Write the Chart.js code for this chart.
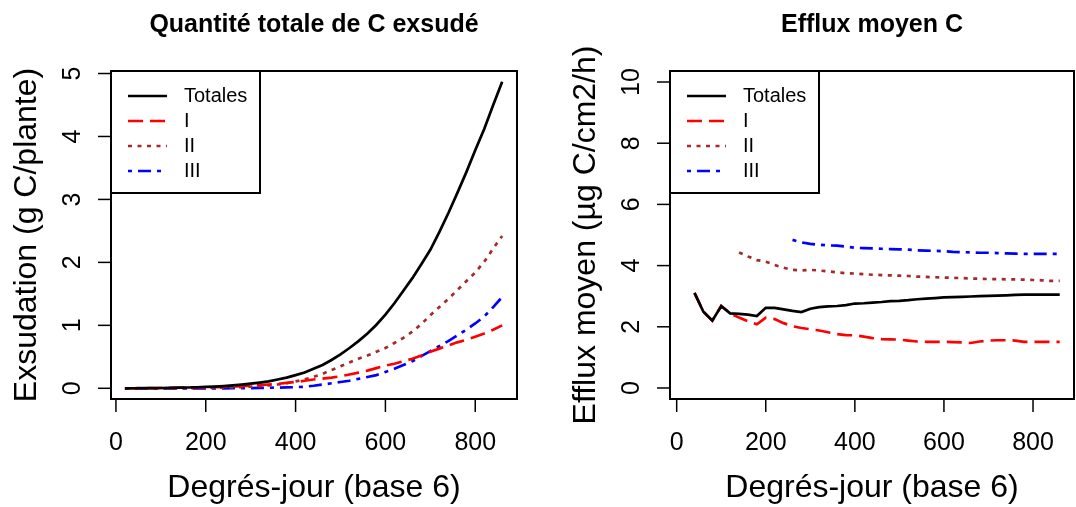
<!DOCTYPE html>
<html>
<head>
<meta charset="utf-8">
<script src="https://cdn.jsdelivr.net/npm/chart.js@4"></script>
<style>
  body { margin: 0; background: #fff; }
  #wrap { position: relative; width: 1076px; height: 507px; }
  .panel { position: absolute; top: 0; width: 538px; height: 507px; }
</style>
</head>
<body>
<div id="wrap">
  <div class="panel" style="left:0"><canvas id="left"></canvas></div>
  <div class="panel" style="left:538px"><canvas id="right"></canvas></div>
</div>
<script>
// ===============================
// Data
// ===============================
const degresJour = [20, 40, 60, 80, 100, 120, 140, 160, 180, 200, 220, 240, 260, 280, 300,
  320, 340, 360, 380, 400, 420, 440, 460, 480, 500, 520, 540, 560, 580, 600,
  620, 640, 660, 680, 700, 720, 740, 760, 780, 800, 820, 840, 860];

// cumulative exudation (g C/plante)
const totTotales = [0, 0.001, 0.002, 0.003, 0.005, 0.007, 0.01, 0.013, 0.017, 0.022, 0.028, 0.036, 0.046, 0.058, 0.073,
  0.09, 0.11, 0.14, 0.17, 0.21, 0.25, 0.31, 0.37, 0.45, 0.54, 0.64, 0.75, 0.87, 1.01, 1.17,
  1.35, 1.55, 1.75, 1.97, 2.2, 2.48, 2.78, 3.1, 3.43, 3.78, 4.12, 4.5, 4.87];
const totI = [0, 0.001, 0.002, 0.003, 0.005, 0.007, 0.009, 0.011, 0.013, 0.016, 0.02, 0.024, 0.03, 0.036, 0.043,
  0.05, 0.06, 0.07, 0.085, 0.1, 0.12, 0.14, 0.155, 0.17, 0.19, 0.22, 0.25, 0.28, 0.32, 0.36,
  0.39, 0.43, 0.47, 0.52, 0.58, 0.63, 0.68, 0.73, 0.77, 0.82, 0.87, 0.93, 1.0];
const totII = [0, 0, 0, 0, 0, 0, 0.001, 0.002, 0.003, 0.005, 0.007, 0.01, 0.014, 0.019, 0.026,
  0.035, 0.046, 0.06, 0.08, 0.11, 0.14, 0.18, 0.23, 0.29, 0.35, 0.41, 0.47, 0.52, 0.58, 0.64,
  0.72, 0.8, 0.9, 1.02, 1.16, 1.29, 1.42, 1.56, 1.7, 1.84, 2.01, 2.22, 2.42];
const totIII = [0, 0, 0, 0, 0, 0, 0, 0, 0, 0, 0, 0, 0.001, 0.002, 0.004,
  0.006, 0.008, 0.011, 0.014, 0.018, 0.025, 0.04, 0.06, 0.08, 0.1, 0.12, 0.15, 0.18, 0.21, 0.26,
  0.31, 0.37, 0.43, 0.51, 0.59, 0.67, 0.75, 0.84, 0.93, 1.03, 1.14, 1.29, 1.45];

// mean efflux (µg C/cm2/h)
const effTotales = [null, 3.11, 2.49, 2.2, 2.68, 2.44, 2.42, 2.4, 2.35, 2.62, 2.62, 2.57, 2.52, 2.48, 2.59,
  2.64, 2.67, 2.68, 2.71, 2.76, 2.77, 2.79, 2.81, 2.84, 2.85, 2.87, 2.9, 2.92, 2.94, 2.96,
  2.97, 2.98, 2.99, 3.0, 3.01, 3.02, 3.03, 3.04, 3.05, 3.05, 3.05, 3.05, 3.05];
const effI = [null, 3.11, 2.49, 2.2, 2.68, 2.44, 2.3, 2.18, 2.08, 2.3, 2.25, 2.12, 2.02, 1.96, 1.92,
  1.88, 1.82, 1.76, 1.73, 1.72, 1.68, 1.63, 1.6, 1.59, 1.58, 1.55, 1.52, 1.51, 1.51, 1.51,
  1.5, 1.49, 1.47, 1.52, 1.55, 1.56, 1.56, 1.55, 1.51, 1.51, 1.51, 1.51, 1.51];
const effII = [null, null, null, null, null, null, 4.43, 4.3, 4.18, 4.13, 4.02, 3.93, 3.86, 3.84, 3.86,
  3.84, 3.81, 3.78, 3.75, 3.74, 3.72, 3.7, 3.69, 3.68, 3.67, 3.66, 3.64, 3.63, 3.62, 3.61,
  3.6, 3.59, 3.58, 3.57, 3.56, 3.56, 3.55, 3.55, 3.54, 3.53, 3.52, 3.5, 3.5];
const effIII = [null, null, null, null, null, null, null, null, null, null, null, null, 4.84, 4.76, 4.71,
  4.68, 4.66, 4.65, 4.62, 4.58, 4.57, 4.56, 4.55, 4.54, 4.53, 4.52, 4.5, 4.49, 4.48, 4.47,
  4.45, 4.44, 4.43, 4.42, 4.42, 4.41, 4.4, 4.39, 4.38, 4.38, 4.38, 4.38, 4.38];

const xTicks = [0, 200, 400, 600, 800];
const leftYTicks = [0, 1, 2, 3, 4, 5];
const rightYTicks = [0, 2, 4, 6, 8, 10];
const legendLabels = ["Totales", "I", "II", "III"];

// ===============================
// Styles
// ===============================
const FONT = '"Liberation Sans", Arial, Helvetica, sans-serif';
const seriesStyle = [
  { color: "#000000", dash: [] },
  { color: "#FF0000", dash: [15, 7] },
  { color: "#A52A2A", dash: [4, 5.5] },
  { color: "#0000FF", dash: [4, 6, 13, 6] }
];

function toPoints(values) {
  return degresJour.map((d, i) => ({ x: d, y: values[i] }));
}

function makeDatasets(list) {
  return list.map((values, i) => ({
    label: legendLabels[i],
    data: toPoints(values),
    borderColor: seriesStyle[i].color,
    borderDash: seriesStyle[i].dash,
    borderWidth: 2.7,
    borderCapStyle: "butt",
    pointRadius: 0,
    tension: 0,
    fill: false,
    spanGaps: false
  }));
}

// R-like frame, axes, titles and legend
const rFrame = {
  id: "rFrame",
  afterDraw(chart, args, opts) {
    const { ctx, chartArea: a, scales: { x, y } } = chart;
    ctx.save();
    ctx.fillStyle = "#000";
    ctx.strokeStyle = "#000";

    // box
    ctx.lineWidth = 2;
    ctx.strokeRect(a.left, a.top, a.right - a.left, a.bottom - a.top);

    // x axis ticks + labels
    ctx.lineWidth = 1.5;
    ctx.font = "25px " + FONT;
    ctx.textAlign = "center";
    ctx.textBaseline = "alphabetic";
    xTicks.forEach(v => {
      const px = x.getPixelForValue(v);
      ctx.beginPath();
      ctx.moveTo(px, a.bottom);
      ctx.lineTo(px, a.bottom + 13);
      ctx.stroke();
      ctx.fillText(String(v), px, a.bottom + 51);
    });

    // y axis ticks + rotated labels
    opts.yTicks.forEach(v => {
      const py = y.getPixelForValue(v);
      ctx.beginPath();
      ctx.moveTo(a.left, py);
      ctx.lineTo(a.left - 13, py);
      ctx.stroke();
      ctx.save();
      ctx.translate(a.left - 31, py);
      ctx.rotate(-Math.PI / 2);
      ctx.fillText(String(v), 0, 0);
      ctx.restore();
    });

    // axis titles
    ctx.font = "32px " + FONT;
    ctx.fillText("Degrés-jour (base 6)", (a.left + a.right) / 2, 497);
    ctx.save();
    ctx.translate(a.left - 75, (a.top + a.bottom) / 2);
    ctx.rotate(-Math.PI / 2);
    ctx.fillText(opts.yTitle, 0, 0);
    ctx.restore();

    // main title
    ctx.font = "bold 25px " + FONT;
    ctx.fillText(opts.title, (a.left + a.right) / 2, 32);

    // legend
    ctx.lineWidth = 2;
    ctx.strokeRect(a.left, a.top, 149, 122);
    ctx.font = "20px " + FONT;
    ctx.textAlign = "left";
    ctx.textBaseline = "middle";
    legendLabels.forEach((lab, i) => {
      const ly = a.top + 25 + i * 25;
      ctx.save();
      ctx.strokeStyle = seriesStyle[i].color;
      ctx.lineWidth = 2.7;
      ctx.setLineDash(seriesStyle[i].dash);
      ctx.beginPath();
      ctx.moveTo(a.left + 17, ly);
      ctx.lineTo(a.left + 56, ly);
      ctx.stroke();
      ctx.restore();
      ctx.fillText(lab, a.left + 73, ly);
    });
    ctx.restore();
  }
};

function makeChart(id, datasets, yMin, yMax, xMin, xMax, padding, pluginOpts) {
  return new Chart(document.getElementById(id), {
    type: "line",
    data: { datasets: datasets },
    options: {
      responsive: true,
      maintainAspectRatio: false,
      animation: false,
      layout: { padding: padding },
      plugins: {
        legend: { display: false },
        tooltip: { enabled: false },
        rFrame: pluginOpts
      },
      scales: {
        x: { type: "linear", min: xMin, max: xMax, display: false },
        y: { type: "linear", min: yMin, max: yMax, display: false }
      }
    },
    plugins: [rFrame]
  });
}

makeChart("left", makeDatasets([totTotales, totI, totII, totIII]),
  -0.17, 5.04, -11, 893,
  { left: 111, right: 21, top: 71, bottom: 108 },
  { title: "Quantité totale de C exsudé", yTitle: "Exsudation (g C/plante)", yTicks: leftYTicks });

makeChart("right", makeDatasets([effTotales, effI, effII, effIII]),
  -0.36, 10.36, -15, 892,
  { left: 132, right: 2, top: 71, bottom: 108 },
  { title: "Efflux moyen C", yTitle: "Efflux moyen (µg C/cm2/h)", yTicks: rightYTicks });
</script>
</body>
</html>
